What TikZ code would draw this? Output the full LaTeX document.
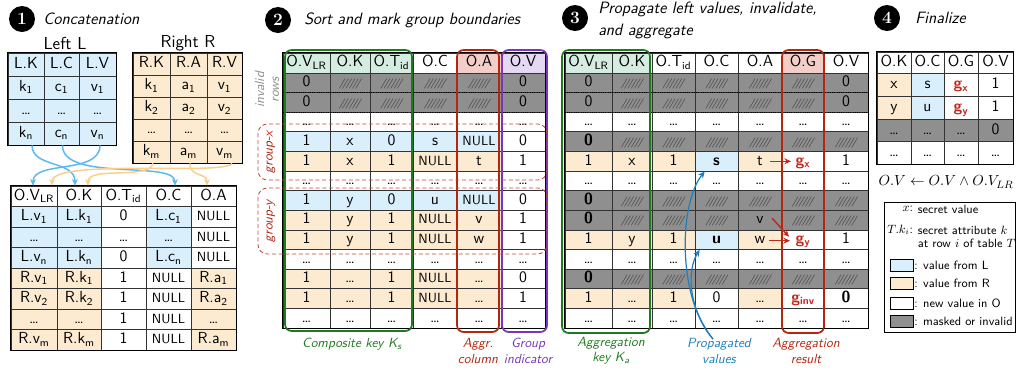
\documentclass[tikz,border=0pt]{standalone}
\usetikzlibrary{arrows.meta,calc}
\renewcommand\familydefault{\sfdefault}

% cell fills
\definecolor{cL}{HTML}{D9EFFC}
\definecolor{cR}{HTML}{FCEBD0}
\definecolor{cW}{HTML}{FFFFFF}
\definecolor{cG}{HTML}{8F8F8F}
\definecolor{cHg}{HTML}{D5ECE1}
\definecolor{cHr}{HTML}{F3CDC7}
\definecolor{cHp}{HTML}{E4D8F2}
% outlines and labels
\definecolor{kgreen}{HTML}{1F7A1F}
\definecolor{kred}{HTML}{B3260F}
\definecolor{kpurple}{HTML}{7A36B8}
\definecolor{lblue}{HTML}{5DB8F0}
\definecolor{lorange}{HTML}{F8CF8E}
\definecolor{pblue}{HTML}{1E7FC0}
\definecolor{gred}{HTML}{C0281C}

% masked cell content: six tightly set slashes
\newcommand\hk{\kern-.2em}
\newcommand\hs{{\fontsize{7.5}{8}\selectfont\itshape\color{black!85}/\hk/\hk/\hk/\hk/\hk/}}
\newcommand\nul{{\fontsize{10}{10}\selectfont NULL}}
\newcommand\gsub[1]{{\color{gred}\bfseries g\textsubscript{#1}}}

% one table row: name prefix, column array, top y, bottom y, list of fill/text
\newcommand\trow[5]{%
  \foreach \cf/\ct [count=\colidx] in {#5} {%
    \pgfmathsetmacro\xl{#2[\colidx-1]}%
    \pgfmathsetmacro\xr{#2[\colidx]}%
    \pgfmathsetmacro\cellw{(\xr-\xl)*0.75}%
    \pgfmathsetmacro\cellh{(#4-#3)*0.75}%
    \node[cell, fill=\cf, minimum width=\cellw pt, minimum height=\cellh pt]
      (#1-\colidx) at ({(\xl+\xr)/2},{(#3+#4)/2}) {\ct};%
  }}

\def\colsL{{8,44,79,116}}
\def\colsR{{133,170,207,242}}
\def\colsO{{11,57,101,146,191,236}}
\def\colsB{{283,330,370,413,457,501,545}}
\def\colsC{{565,612,652,695,738,782,824,868}}
\def\colsD{{877,911,944,978,1013}}

\begin{document}
\begin{tikzpicture}[x=0.75pt,y=-0.75pt,
  cell/.style={draw=black!80, line width=0.5pt, inner sep=0pt, text height=8.2pt, text depth=2.4pt, font=\fontsize{12}{13}\selectfont},
  frame/.style={draw=black, line width=0.9pt},
  numc/.style={circle, fill=black, text=white, minimum size=19.5pt, inner sep=0pt, font=\rmfamily\bfseries\fontsize{13}{13}\selectfont},
  ttl/.style={anchor=west, inner sep=0pt, align=left, font=\fontsize{12.3}{16.5}\selectfont\itshape},
  lbl/.style={align=center, inner sep=1pt, font=\fontsize{10}{11.5}\selectfont\itshape},
  keybox/.style={line width=1.3pt, rounded corners=5pt},
  grpbox/.style={draw=kred!85, densely dashed, line width=0.6pt, rounded corners=7pt},
  grplbl/.style={rotate=90, text=kred, font=\fontsize{10}{12}\selectfont\itshape},
  lflow/.style={draw=lblue, line width=1.1pt, -{Stealth[length=5pt,width=4.5pt]}},
  rflow/.style={draw=lorange, line width=1.1pt, -{Stealth[length=5pt,width=4.5pt]}},
  pflow/.style={draw=pblue, line width=0.9pt, -{Stealth[length=5pt,width=4.5pt]}},
  gflow/.style={draw=gred, line width=1.1pt, -{Stealth[length=5pt,width=4.5pt]}},
  lgd/.style={inner sep=0.5pt, font=\fontsize{9}{10}\selectfont},
  swatch/.style={draw=black, line width=0.5pt, minimum width=17.25pt, minimum height=9pt, inner sep=0pt},
  sep/.style={densely dotted, line width=0.7pt}
]
\useasboundingbox[fill=white] (0,0) rectangle (1016,369);

% ---------- 1: concatenation ----------
\node[numc] (n1) at (22,19) {1};
\node[ttl] (t1) at (43,19) {Concatenation};
\node[font=\fontsize{13}{14}\selectfont] (capL) at (65,43) {Left L};
\node[font=\fontsize{13}{14}\selectfont] (capR) at (188,43) {Right R};

\trow{L-0}{\colsL}{53}{76}{cL/L.K, cL/L.C, cL/L.V}
\trow{L-1}{\colsL}{76}{99}{cL/k\textsubscript{1}, cL/c\textsubscript{1}, cL/v\textsubscript{1}}
\trow{L-2}{\colsL}{99}{122}{cL/\dots, cL/\dots, cL/\dots}
\trow{L-3}{\colsL}{122}{145}{cL/k\textsubscript{n}, cL/c\textsubscript{n}, cL/v\textsubscript{n}}
\draw[frame] (L-0-1.north west) rectangle (L-3-3.south east);

\trow{R-0}{\colsR}{53}{75}{cR/R.K, cR/R.A, cR/R.V}
\trow{R-1}{\colsR}{75}{97}{cR/k\textsubscript{1}, cR/a\textsubscript{1}, cR/v\textsubscript{1}}
\trow{R-2}{\colsR}{97}{119}{cR/k\textsubscript{2}, cR/a\textsubscript{2}, cR/v\textsubscript{2}}
\trow{R-3}{\colsR}{119}{141}{cR/\dots, cR/\dots, cR/\dots}
\trow{R-4}{\colsR}{141}{163}{cR/k\textsubscript{m}, cR/a\textsubscript{m}, cR/v\textsubscript{m}}
\draw[frame] (R-0-1.north west) rectangle (R-4-3.south east);

\trow{O-0}{\colsO}{186}{206.5}{cW/O.V\textsubscript{LR}, cW/O.K, cW/O.T\textsubscript{id}, cW/O.C, cW/O.A}
\trow{O-1}{\colsO}{206.5}{227}{cL/L.v\textsubscript{1}, cL/L.k\textsubscript{1}, cW/0, cL/L.c\textsubscript{1}, cW/\nul}
\trow{O-2}{\colsO}{227}{247.5}{cL/\dots, cL/\dots, cW/\dots, cL/\dots, cW/\nul}
\trow{O-3}{\colsO}{247.5}{268}{cL/L.v\textsubscript{n}, cL/L.k\textsubscript{n}, cW/0, cL/L.c\textsubscript{n}, cW/\nul}
\trow{O-4}{\colsO}{268}{288.5}{cR/R.v\textsubscript{1}, cR/R.k\textsubscript{1}, cW/1, cW/\nul, cR/R.a\textsubscript{1}}
\trow{O-5}{\colsO}{288.5}{309}{cR/R.v\textsubscript{2}, cR/R.k\textsubscript{2}, cW/1, cW/\nul, cR/R.a\textsubscript{2}}
\trow{O-6}{\colsO}{309}{329.5}{cR/\dots, cR/\dots, cW/1, cW/\nul, cR/\dots}
\trow{O-7}{\colsO}{329.5}{350}{cR/R.v\textsubscript{m}, cR/R.k\textsubscript{m}, cW/1, cW/\nul, cR/R.a\textsubscript{m}}
\draw[frame] (O-0-1.north west) rectangle (O-7-5.south east);

% columns of L and R flowing into O
\draw[lflow] ($(L-3-1.south)+(6,0)$) .. controls (32,168) and (75,160) .. ($(O-0-2.north)+(-4,0)$);
\draw[lflow] ($(L-3-2.south)+(1,0)$) .. controls (62,182) and (175,160) .. ($(O-0-4.north)+(6.5,0)$);
\draw[lflow] ($(L-3-3.south)+(2.5,0)$) .. controls (100,175) and (33,160) .. ($(O-0-1.north)+(-1,0)$);
\draw[rflow] ($(R-4-1.south)+(1.5,0)$) .. controls (150,180) and (88,166) .. ($(O-0-2.north)+(9,0)$);
\draw[rflow] ($(R-4-2.south)+(1.5,0)$) .. controls (190,178) and (207,172) .. ($(O-0-5.north)+(-6.5,0)$);
\draw[rflow] ($(R-4-3.south)+(7.5,0)$) .. controls (225,176) and (52,158) .. ($(O-0-1.north)+(18,0)$);

% ---------- 2: sort and mark ----------
\node[numc] (n2) at (278,20) {2};
\node[ttl] (t2) at (304,20) {Sort and mark group boundaries};

\trow{T2-0}{\colsB}{53}{73}{cHg/O.V\textsubscript{LR}, cHg/O.K, cHg/O.T\textsubscript{id}, cW/O.C, cHr/O.A, cHp/O.V}
\trow{T2-1}{\colsB}{73}{92.6}{cG/0, cG/\hs, cG/\hs, cG/\hs, cG/\hs, cG/0}
\trow{T2-2}{\colsB}{92.6}{112.2}{cG/0, cG/\hs, cG/\hs, cG/\hs, cG/\hs, cG/0}
\trow{T2-3}{\colsB}{112.2}{131.8}{cW/\dots, cW/\dots, cW/\dots, cW/\dots, cW/\dots, cW/\dots}
\trow{T2-4}{\colsB}{131.8}{151.5}{cL/1, cL/x, cL/0, cL/s, cL/\nul, cW/0}
\trow{T2-5}{\colsB}{151.5}{171.1}{cR/1, cR/x, cR/1, cR/\nul, cR/t, cW/1}
\trow{T2-6}{\colsB}{171.1}{190.7}{cW/\dots, cW/\dots, cW/\dots, cW/\dots, cW/\dots, cW/\dots}
\trow{T2-7}{\colsB}{190.7}{210.3}{cL/1, cL/y, cL/0, cL/u, cL/\nul, cW/0}
\trow{T2-8}{\colsB}{210.3}{229.9}{cR/1, cR/y, cR/1, cR/\nul, cR/v, cW/1}
\trow{T2-9}{\colsB}{229.9}{249.5}{cR/1, cR/y, cR/1, cR/\nul, cR/w, cW/1}
\trow{T2-10}{\colsB}{249.5}{269.2}{cW/\dots, cW/\dots, cW/\dots, cW/\dots, cW/\dots, cW/\dots}
\trow{T2-11}{\colsB}{269.2}{288.8}{cR/1, cR/\dots, cR/1, cR/\nul, cR/\dots, cW/0}
\trow{T2-12}{\colsB}{288.8}{308.4}{cR/1, cR/\dots, cR/1, cR/\nul, cR/\dots, cW/1}
\trow{T2-13}{\colsB}{308.4}{328}{cW/\dots, cW/\dots, cW/\dots, cW/\dots, cW/\dots, cW/\dots}
\draw[sep] (T2-1-1.south west) -- (T2-1-6.south east);
\draw[sep] (T2-2-1.south west) -- (T2-2-6.south east);
\draw[frame] (T2-0-1.north west) rectangle (T2-13-6.south east);

\draw[keybox, kgreen] (285,50) rectangle (412,331);
\draw[keybox, kred] (457,50) rectangle (499,332);
\draw[keybox, kpurple] (502,50) rectangle (547,332);
\draw[grpbox] (258,124) rectangle (547,180);
\draw[grpbox] (258,188) rectangle (547,254);
\node[grplbl] (gx) at (271,152) {group-x};
\node[grplbl] (gy) at (271,221) {group-y};
\node[rotate=90, align=center, text=black!45, font=\fontsize{10}{11}\selectfont\itshape] (inv) at (267,90) {invalid\\rows};

\node[lbl, text=kgreen] (ks) at (352,344) {Composite key K\textsubscript{s}};
\node[lbl, text=kred] (ac) at (478,351) {Aggr.\\column};
\node[lbl, text=kpurple] (gi) at (528,351) {Group\\indicator};

% ---------- 3: propagate, invalidate, aggregate ----------
\node[numc] (n3) at (575,18) {3};
\node[ttl, anchor=north west] (t3) at (598,2) {Propagate left values, invalidate,\\and aggregate};

\trow{T3-0}{\colsC}{53}{73}{cHg/O.V\textsubscript{LR}, cHg/O.K, cW/O.T\textsubscript{id}, cW/O.C, cW/O.A, cHr/O.G, cW/O.V}
\trow{T3-1}{\colsC}{73}{92.6}{cG/0, cG/\hs, cG/\hs, cG/\hs, cG/\hs, cG/\hs, cG/0}
\trow{T3-2}{\colsC}{92.6}{112.2}{cG/0, cG/\hs, cG/\hs, cG/\hs, cG/\hs, cG/\hs, cG/0}
\trow{T3-3}{\colsC}{112.2}{131.8}{cW/\dots, cW/\dots, cW/\dots, cW/\dots, cW/\dots, cW/\dots, cW/\dots}
\trow{T3-4}{\colsC}{131.8}{151.5}{cG/\textbf{0}, cG/\hs, cG/\hs, cG/\hs, cG/\hs, cG/\hs, cG/\hs}
\trow{T3-5}{\colsC}{151.5}{171.1}{cR/1, cR/x, cR/1, cL/\textbf{s}, cR/t, cW/\gsub{x}, cW/1}
\trow{T3-6}{\colsC}{171.1}{190.7}{cW/\dots, cW/\dots, cW/\dots, cW/\dots, cW/\dots, cW/\dots, cW/\dots}
\trow{T3-7}{\colsC}{190.7}{210.3}{cG/\textbf{0}, cG/\hs, cG/\hs, cG/\hs, cG/\hs, cG/\hs, cG/\hs}
\trow{T3-8}{\colsC}{210.3}{229.9}{cG/\textbf{0}, cG/\hs, cG/\hs, cG/\hs, cG/v, cG/\hs, cG/\hs}
\trow{T3-9}{\colsC}{229.9}{249.5}{cR/1, cR/y, cR/1, cL/\textbf{u}, cR/w, cW/\gsub{y}, cW/1}
\trow{T3-10}{\colsC}{249.5}{269.2}{cW/\dots, cW/\dots, cW/\dots, cW/\dots, cW/\dots, cW/\dots, cW/\dots}
\trow{T3-11}{\colsC}{269.2}{288.8}{cG/\textbf{0}, cG/\hs, cG/\hs, cG/\hs, cG/\hs, cG/\hs, cG/\hs}
\trow{T3-12}{\colsC}{288.8}{308.4}{cR/1, cR/\dots, cR/1, cW/0, cR/\dots, cW/\gsub{inv}, cW/\textbf{0}}
\trow{T3-13}{\colsC}{308.4}{328}{cW/\dots, cW/\dots, cW/\dots, cW/\dots, cW/\dots, cW/\dots, cW/\dots}
\draw[sep] (T3-1-1.south west) -- (T3-1-7.south east);
\draw[sep] (T3-2-1.south west) -- (T3-2-7.south east);
\draw[frame] (T3-0-1.north west) rectangle (T3-13-7.south east);

\draw[keybox, kgreen] (562,50) rectangle (650,333);
\draw[keybox, kred] (782,50) rectangle (824,333);

% aggregation inputs
\draw[gflow] ($(T3-5-5.center)+(10,0)$) -- ($(T3-5-6.center)+(-12,0)$);
\draw[gflow] ($(T3-8-5.center)+(12,-2)$) -- ($(T3-9-6.center)+(-14,-3)$);
\draw[gflow] ($(T3-9-5.center)+(9,1)$) -- ($(T3-9-6.center)+(-13,1)$);

\node[lbl, text=kgreen] (ka) at (611,351) {Aggregation\\key K\textsubscript{a}};
\node[lbl, text=pblue] (prop) at (719,351) {Propagated\\values};
\node[lbl, text=kred] (ar) at (806,351) {Aggregation\\result};

% propagated left values
\draw[pflow] ($(prop.north)+(-6,2)$) .. controls (678,300) and (678,205) .. ($(T3-5-4.south west)+(10,0)$);
\draw[pflow] ($(prop.north)+(-6,2)$) .. controls (686,305) and (688,268) .. ($(T3-9-4.south west)+(5,0)$);

% ---------- 4: finalize ----------
\node[numc] (n4) at (887,18) {4};
\node[ttl] (t4) at (915,18) {Finalize};

\trow{T4-0}{\colsD}{52}{73.5}{cW/O.K, cW/O.C, cW/O.G, cW/O.V}
\trow{T4-1}{\colsD}{73.5}{96.5}{cR/x, cL/s, cW/\gsub{x}, cW/1}
\trow{T4-2}{\colsD}{96.5}{119}{cR/y, cL/u, cW/\gsub{y}, cW/1}
\trow{T4-3}{\colsD}{119}{141.5}{cG/\dots, cG/\dots, cG/\dots, cG/0}
\trow{T4-4}{\colsD}{141.5}{164}{cW/\dots, cW/\dots, cW/\dots, cW/\dots}
\draw[frame] (T4-0-1.north west) rectangle (T4-4-4.south east);

\node[font=\fontsize{10.8}{13}\selectfont] (fin) at (946,182) {$O.V \leftarrow O.V \wedge O.V_{LR}$};

% legend
\draw[line width=0.6pt] (884,202) rectangle (1015,332);
\node[lgd, anchor=east] (lx) at (914,209) {$x$:};
\node[lgd, anchor=west] (lxt) at (917,209) {secret value};
\node[lgd, anchor=east] (lt) at (914,230) {$T.k_i$:};
\node[lgd, anchor=west] (ltt) at (917,230) {secret attribute $k$};
\node[lgd, anchor=west] (ltu) at (917,243) {at row $i$ of table $T$};
\node[swatch, fill=cL] (s1) at (901.5,265) {};
\node[lgd, anchor=west] (s1t) at (s1.east) {: value from L};
\node[swatch, fill=cR] (s2) at (901.5,283) {};
\node[lgd, anchor=west] (s2t) at (s2.east) {: value from R};
\node[swatch, fill=cW] (s3) at (901.5,303) {};
\node[lgd, anchor=west] (s3t) at (s3.east) {: new value in O};
\node[swatch, fill=cG] (s4) at (901.5,321) {};
\node[lgd, anchor=west] (s4t) at (s4.east) {: masked or invalid};
\end{tikzpicture}
\end{document}
